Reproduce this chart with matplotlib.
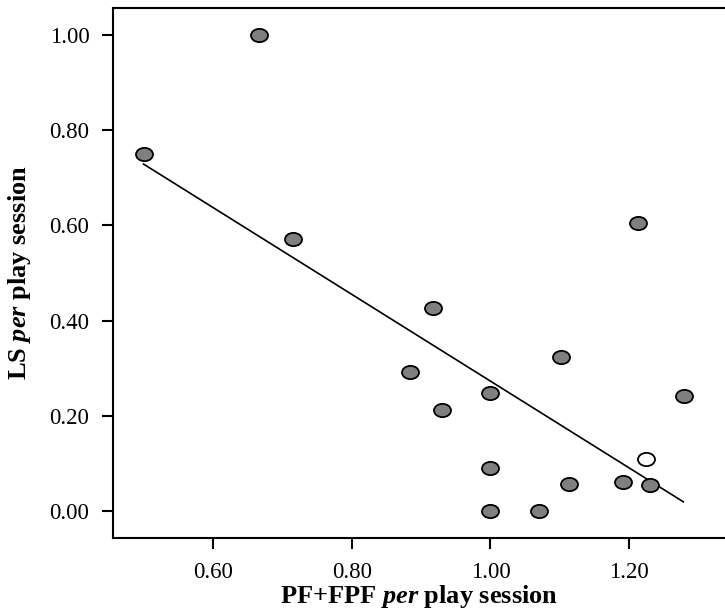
import numpy as np
import matplotlib.pyplot as plt
from matplotlib.path import Path
from matplotlib.transforms import Affine2D

plt.rcParams['font.family'] = 'Liberation Serif'
plt.rcParams['mathtext.fontset'] = 'custom'
plt.rcParams['mathtext.it'] = 'Liberation Serif:italic:bold'
plt.rcParams['mathtext.rm'] = 'Liberation Serif:bold'

# data
pf_fpf = [0.666, 0.500, 0.715, 0.917, 0.884, 0.930, 1.000, 1.102, 1.213,
          1.279, 1.000, 1.113, 1.191, 1.230, 1.000, 1.070]
ls_rate = [1.000, 0.750, 0.571, 0.426, 0.292, 0.212, 0.248, 0.323, 0.605,
           0.241, 0.090, 0.057, 0.061, 0.055, 0.000, 0.000]
open_x = [1.224]
open_y = [0.109]
fit_x = [0.500, 1.278]
fit_y = [0.729, 0.019]

xticks = [0.60, 0.80, 1.00, 1.20]
yticks = [0.00, 0.20, 0.40, 0.60, 0.80, 1.00]

ellipse = Path.unit_circle().transformed(Affine2D().scale(1.0, 0.78))

fig = plt.figure(figsize=(7.25, 6.12), dpi=100)
ax = fig.add_axes([113 / 725, 1 - 538 / 612, 1 - 113 / 725, 530 / 612])

ax.plot(fit_x, fit_y, color='black', lw=1.2, zorder=2)
ax.scatter(pf_fpf, ls_rate, s=150, marker=ellipse, facecolor='#7f7f7f',
           edgecolor='black', linewidths=1.3, zorder=3)
ax.scatter(open_x, open_y, s=150, marker=ellipse, facecolor='white',
           edgecolor='black', linewidths=1.3, zorder=3)

ax.set_xlim(0.456, 1.338)
ax.set_ylim(-0.057, 1.057)
ax.set_xticks(xticks)
ax.set_yticks(yticks)
ax.set_xticklabels(['%.2f' % v for v in xticks])
ax.set_yticklabels(['%.2f' % v for v in yticks])
ax.tick_params(direction='out', length=8, width=1.5, labelsize=16.5, pad=9)
ax.spines['right'].set_visible(False)
for s in ['left', 'top', 'bottom']:
    ax.spines[s].set_linewidth(1.5)

ax.set_xlabel(r'PF+FPF $per$ play session', fontsize=19, fontweight='bold', labelpad=0)
ax.set_ylabel(r'LS $per$ play session', fontsize=19, fontweight='bold', labelpad=12)

fig.savefig('out.png', dpi=100)
